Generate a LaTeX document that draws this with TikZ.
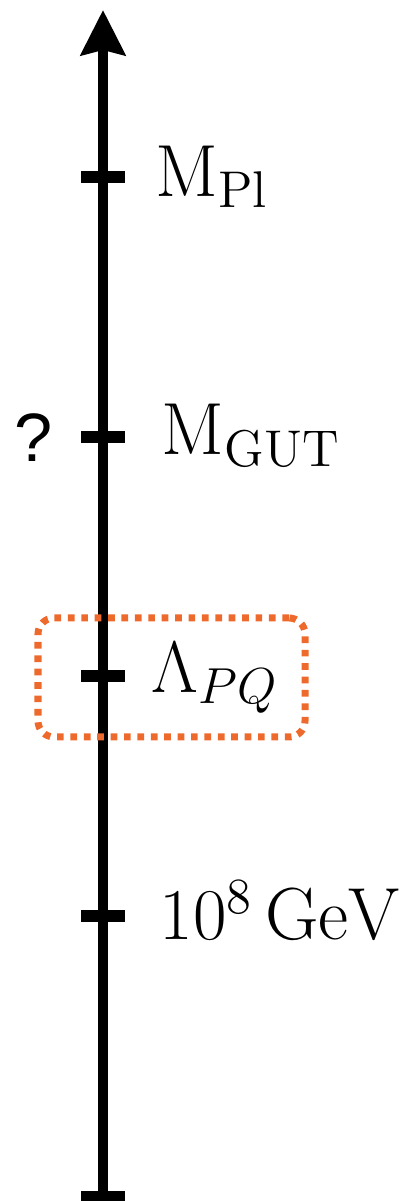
\documentclass[tikz,border=0pt]{standalone}
\usepackage{fontspec}
\newfontfamily\qfont{Liberation Sans}
\usetikzlibrary{arrows.meta}
\definecolor{pqorange}{RGB}{238,106,44}
\tikzset{
  scaleaxis/.style={line width=0.1cm,-{Stealth[length=0.45cm,width=0.44cm,inset=0.05cm]}},
  tickmark/.style={line width=0.12cm},
  scalelabel/.style={anchor=base west,inner sep=0pt,font=\fontsize{21}{25}\selectfont},
  pqframe/.style={draw=pqorange,line width=0.07cm,dash pattern=on 0.067cm off 0.067cm,
    rounded corners=0.16cm,inner sep=0pt,minimum width=2.67cm,minimum height=1.19cm}
}
\begin{document}
\begin{tikzpicture}[x=1cm,y=1cm]
  \useasboundingbox (0,0) rectangle (4.12,12.01);
  \coordinate (bot) at (1.03,0); \coordinate (top) at (1.03,11.91);
  \draw[scaleaxis] (bot) -- (top);
  % ticks
  \foreach \n/\y in {pl/10.24,gut/7.64,pq/5.25,gev/2.85,low/0.04} {
    \coordinate (t\n) at (1.03,\y);
    \draw[tickmark] ([xshift=-0.22cm]t\n) -- ([xshift=0.22cm]t\n);
  }
  \node[scalelabel] (mpl) at (1.55,10.04) {$\mathrm{M}_{\mathrm{Pl}}$};
  \node[scalelabel] (mgut) at (1.61,7.46) {$\mathrm{M}_{\mathrm{GUT}}$};
  \node[scalelabel] (lpq) at (1.51,5.08) {$\Lambda_{PQ}$};
  \node[scalelabel] (gev) at (1.59,2.61) {$10^8\,\mathrm{GeV}$};
  \node[scalelabel,font=\qfont\fontsize{19.5}{23}\selectfont] (qm) at (0.14,7.39) {?};
  \node[pqframe] (pqbox) at (1.715,5.235) {};
\end{tikzpicture}
\end{document}
